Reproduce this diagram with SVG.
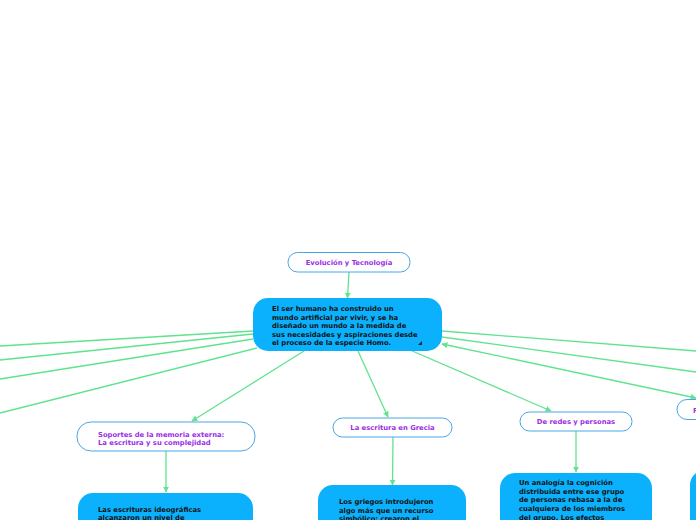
<svg xmlns="http://www.w3.org/2000/svg" width="696" height="520" viewBox="0 0 696 520">
<style>
.con{fill:none;stroke:#5fe38e;stroke-width:1.3}
.sub{fill:#ffffff;stroke:#4aa6e6;stroke-width:1}
.main{fill:#0bb1fd}
.pt{font-family:"DejaVu Sans",Verdana,sans-serif;font-weight:bold;font-size:6.8px;fill:#9b2ee6}
.bt{font-family:"DejaVu Sans",Verdana,sans-serif;font-weight:bold;font-size:6.8px;fill:#111111}
</style>
<defs>
<marker id="ah" viewBox="0 0 10 10" refX="9" refY="5" markerWidth="6" markerHeight="6" markerUnits="userSpaceOnUse" orient="auto-start-reverse">
<path d="M0,0 L10,5 L0,10 z" fill="#5fe38e"/>
</marker>
</defs>
<rect width="696" height="520" fill="#ffffff"/>
<g id="connectors">
<line class="con" x1="349" y1="272" x2="347.5" y2="298" marker-end="url(#ah)"/>
<line class="con" x1="253" y1="331" x2="0" y2="346"/>
<line class="con" x1="253" y1="334" x2="0" y2="360"/>
<line class="con" x1="253" y1="339" x2="0" y2="379"/>
<line class="con" x1="257" y1="348" x2="0" y2="413"/>
<line class="con" x1="304" y1="351" x2="192" y2="421" marker-end="url(#ah)"/>
<line class="con" x1="358" y1="351" x2="388" y2="417" marker-end="url(#ah)"/>
<line class="con" x1="410" y1="350" x2="551" y2="411" marker-end="url(#ah)"/>
<line class="con" x1="442" y1="331" x2="696" y2="351"/>
<line class="con" x1="442" y1="337" x2="696" y2="372"/>
<line class="con" x1="442" y1="344" x2="696" y2="398" marker-start="url(#ah)" marker-end="url(#ah)"/>
<line class="con" x1="166" y1="451" x2="166" y2="492" marker-end="url(#ah)"/>
<line class="con" x1="393" y1="437" x2="392.5" y2="485" marker-end="url(#ah)"/>
<line class="con" x1="576" y1="431" x2="576" y2="472" marker-end="url(#ah)"/>
</g>
<g id="node-evolucion">
<rect class="sub" x="288" y="252.5" width="122" height="19.5" rx="9.5"/>
<text class="pt" x="349" y="264.5" text-anchor="middle">Evolución y Tecnología</text>
</g>
<g id="node-central">
<rect class="main" x="253" y="298" width="189" height="53" rx="15"/>
<text class="bt" x="272" y="311">El ser humano ha construido un</text>
<text class="bt" x="272" y="319.5">mundo artificial par vivir, y se ha</text>
<text class="bt" x="272" y="328">diseñado un mundo a la medida de</text>
<text class="bt" x="272" y="336.5">sus necesidades y aspiraciones desde</text>
<text class="bt" x="272" y="345">el proceso de la especie Homo.</text>
<path d="M422,341 L422,345 L418,345 z" fill="#1a2a3a"/>
</g>
<g id="node-soportes">
<rect class="sub" x="77" y="422" width="178" height="29" rx="14"/>
<text class="pt" x="98" y="436.5">Soportes de la memoria externa:</text>
<text class="pt" x="98" y="444.5">La escritura y su complejidad</text>
</g>
<g id="node-ideograficas">
<rect class="main" x="78" y="493" width="175" height="60" rx="15"/>
<text class="bt" x="98" y="512">Las escrituras ideográficas</text>
<text class="bt" x="98" y="520">alcanzaron un nivel de</text>
</g>
<g id="node-grecia">
<rect class="sub" x="333" y="418" width="119" height="19" rx="9.5"/>
<text class="pt" x="392.5" y="430" text-anchor="middle">La escritura en Grecia</text>
</g>
<g id="node-griegos">
<rect class="main" x="318" y="485" width="148" height="60" rx="15"/>
<text class="bt" x="339" y="504">Los griegos introdujeron</text>
<text class="bt" x="339" y="512.5">algo más que un recurso</text>
<text class="bt" x="339" y="521">simbólico: crearon el</text>
</g>
<g id="node-redes">
<rect class="sub" x="520" y="412" width="112" height="19" rx="9.5"/>
<text class="pt" x="576" y="424" text-anchor="middle">De redes y personas</text>
</g>
<g id="node-analogia">
<rect class="main" x="500" y="473" width="152" height="70" rx="15"/>
<text class="bt" x="519" y="485">Un analogía la cognición</text>
<text class="bt" x="519" y="493.5">distribuida entre ese grupo</text>
<text class="bt" x="519" y="502">de personas rebasa a la de</text>
<text class="bt" x="519" y="510.5">cualquiera de los miembros</text>
<text class="bt" x="519" y="519.5">del grupo. Los efectos</text>
</g>
<g id="node-f">
<rect class="sub" x="677" y="399.5" width="60" height="20" rx="10"/>
<text class="pt" x="693" y="412.5">F</text>
</g>
<g id="node-right">
<rect class="main" x="690" y="470" width="60" height="70" rx="15"/>
</g>
</svg>
